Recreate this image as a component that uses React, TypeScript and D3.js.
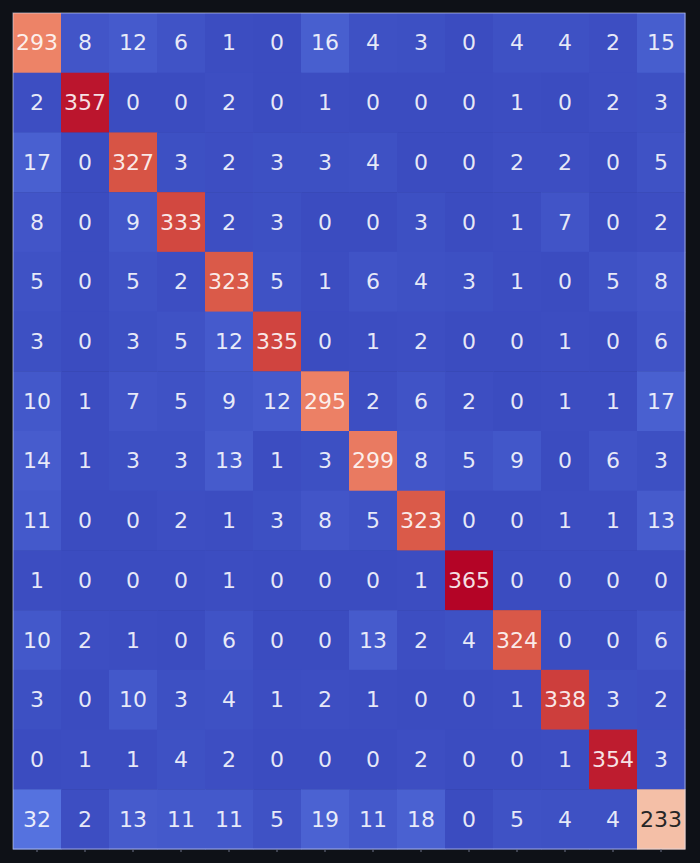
import * as d3 from "d3";
import { useEffect, useRef } from "react";

const classes = d3.range(14).map(String);

const matrix: number[][] = [
    [293, 8, 12, 6, 1, 0, 16, 4, 3, 0, 4, 4, 2, 15],
    [2, 357, 0, 0, 2, 0, 1, 0, 0, 0, 1, 0, 2, 3],
    [17, 0, 327, 3, 2, 3, 3, 4, 0, 0, 2, 2, 0, 5],
    [8, 0, 9, 333, 2, 3, 0, 0, 3, 0, 1, 7, 0, 2],
    [5, 0, 5, 2, 323, 5, 1, 6, 4, 3, 1, 0, 5, 8],
    [3, 0, 3, 5, 12, 335, 0, 1, 2, 0, 0, 1, 0, 6],
    [10, 1, 7, 5, 9, 12, 295, 2, 6, 2, 0, 1, 1, 17],
    [14, 1, 3, 3, 13, 1, 3, 299, 8, 5, 9, 0, 6, 3],
    [11, 0, 0, 2, 1, 3, 8, 5, 323, 0, 0, 1, 1, 13],
    [1, 0, 0, 0, 1, 0, 0, 0, 1, 365, 0, 0, 0, 0],
    [10, 2, 1, 0, 6, 0, 0, 13, 2, 4, 324, 0, 0, 6],
    [3, 0, 10, 3, 4, 1, 2, 1, 0, 0, 1, 338, 3, 2],
    [0, 1, 1, 4, 2, 0, 0, 0, 2, 0, 0, 1, 354, 3],
    [32, 2, 13, 11, 11, 5, 19, 11, 18, 0, 5, 4, 4, 233],
];

// matplotlib "coolwarm" sampled at 11 stops
const coolwarm = [
    "#3b4cc0", "#5977e3", "#7b9ff9", "#9ebeff", "#c0d4f5", "#dddcdc",
    "#f2cbb7", "#f7ac8e", "#ee8468", "#d65244", "#b40426",
];

const App = () => {
    const ref = useRef<HTMLDivElement>(null);

    useEffect(() => {
        if (!ref.current) return;
        d3.select(ref.current).selectAll("*").remove();

        const W = 700, H = 863;
        const margin = { top: 13, right: 15, bottom: 14, left: 13 };
        const width = W - margin.left - margin.right;
        const height = H - margin.top - margin.bottom;

        const root = d3.select(ref.current)
            .append("svg")
            .attr("width", W)
            .attr("height", H)
            .style("position", "absolute")
            .style("left", "0px")
            .style("top", "0px")
            .style("background", "#0e1117");

        const svg = root.append("g")
            .attr("transform", `translate(${margin.left},${margin.top})`);

        const x = d3.scaleBand().domain(classes).range([0, width]);
        const y = d3.scaleBand().domain(classes).range([0, height]);

        const maxVal = d3.max(matrix.flat()) || 1;
        const color = d3.scaleLinear<string>()
            .domain(coolwarm.map((_, i) => (i / (coolwarm.length - 1)) * maxVal))
            .range(coolwarm)
            .interpolate(d3.interpolateRgb);

        const flat = matrix.flatMap((row, r) =>
            row.map((v, c) => ({ row: classes[r], col: classes[c], value: v }))
        );

        svg.selectAll("rect.cell")
            .data(flat)
            .enter()
            .append("rect")
            .attr("class", "cell")
            .attr("x", (d) => x(d.col)!)
            .attr("y", (d) => y(d.row)!)
            .attr("width", x.bandwidth() + 0.5)
            .attr("height", y.bandwidth() + 0.5)
            .style("fill", (d) => color(d.value));

        const lum = (c: string) => {
            const rgb = d3.rgb(c);
            const f = (v: number) => {
                v /= 255;
                return v <= 0.03928 ? v / 12.92 : Math.pow((v + 0.055) / 1.055, 2.4);
            };
            return 0.2126 * f(rgb.r) + 0.7152 * f(rgb.g) + 0.0722 * f(rgb.b);
        };

        svg.selectAll("text.val")
            .data(flat)
            .enter()
            .append("text")
            .attr("class", "val")
            .attr("x", (d) => x(d.col)! + x.bandwidth() / 2)
            .attr("y", (d) => y(d.row)! + y.bandwidth() / 2)
            .attr("text-anchor", "middle")
            .attr("dominant-baseline", "central")
            .style("font-family", "DejaVu Sans")
            .style("font-size", "22px")
            .style("fill", (d) => (lum(color(d.value)) > 0.408 ? "#262626" : "rgba(255,255,255,0.88)"))
            .text((d) => d.value);

        // frame
        svg.append("rect")
            .attr("x", 0)
            .attr("y", 0)
            .attr("width", width)
            .attr("height", height)
            .style("fill", "none")
            .style("stroke", "rgba(220,225,245,0.6)")
            .style("stroke-width", 1);

        // small bottom ticks
        svg.selectAll("line.tick")
            .data(classes)
            .enter()
            .append("line")
            .attr("class", "tick")
            .attr("x1", (d) => x(d)! + x.bandwidth() / 2)
            .attr("x2", (d) => x(d)! + x.bandwidth() / 2)
            .attr("y1", height)
            .attr("y2", height + 3)
            .style("stroke", "#6c7388")
            .style("stroke-width", 1);
    }, []);

    return <div ref={ref} />;
};

export default App;
